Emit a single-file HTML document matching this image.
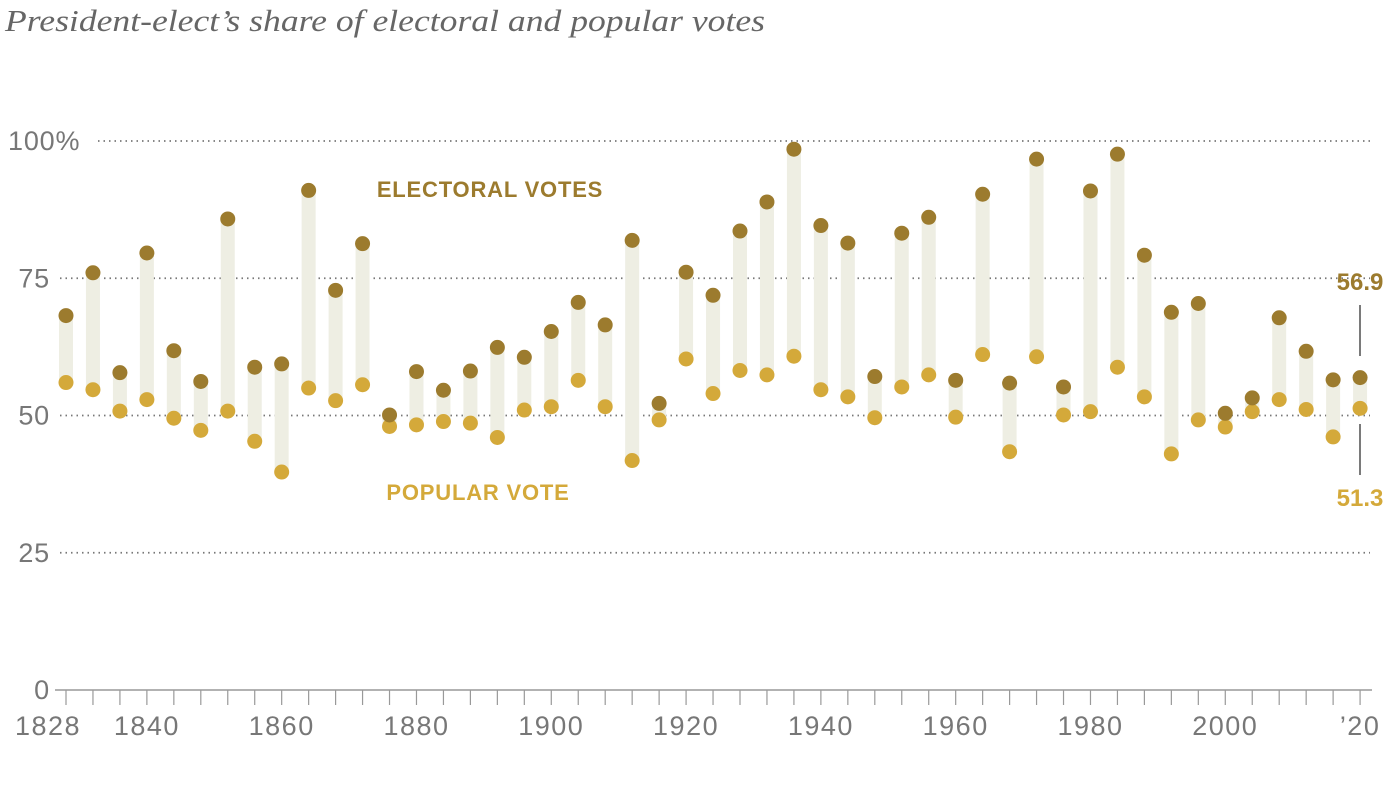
<!DOCTYPE html>
<html><head><meta charset="utf-8"><style>
html,body{margin:0;padding:0;background:#fff;}
svg{display:block;}
</style></head><body>
<svg id="chart" width="1399" height="789" viewBox="0 0 1399 789" xmlns="http://www.w3.org/2000/svg">
<text x="5" y="31" font-family="Liberation Serif, serif" font-style="italic" font-size="31" fill="#666" textLength="760" lengthAdjust="spacingAndGlyphs">President-elect’s share of electoral and popular votes</text>
<g id="grid"></g>
<g id="bars"></g>
<g id="dots"></g>
<g id="axis"></g>
<text x="490" y="197" text-anchor="middle" font-family="Liberation Sans, sans-serif" font-weight="bold" font-size="22" fill="#9c7b2e" letter-spacing="0.8">ELECTORAL VOTES</text>
<text x="478" y="500" text-anchor="middle" font-family="Liberation Sans, sans-serif" font-weight="bold" font-size="22" fill="#d4a93a" letter-spacing="0.8">POPULAR VOTE</text>
<text x="1360" y="290" text-anchor="middle" font-family="Liberation Sans, sans-serif" font-weight="bold" font-size="24" fill="#9c7b2e">56.9</text>
<line x1="1360" y1="305" x2="1360" y2="356" stroke="#333" stroke-width="1.3"/>
<text x="1360" y="506" text-anchor="middle" font-family="Liberation Sans, sans-serif" font-weight="bold" font-size="24" fill="#d4a93a">51.3</text>
<line x1="1360" y1="424" x2="1360" y2="475" stroke="#333" stroke-width="1.3"/>
</svg>
<script>
const years = [1828,1832,1836,1840,1844,1848,1852,1856,1860,1864,1868,1872,1876,1880,1884,1888,1892,1896,1900,1904,1908,1912,1916,1920,1924,1928,1932,1936,1940,1944,1948,1952,1956,1960,1964,1968,1972,1976,1980,1984,1988,1992,1996,2000,2004,2008,2012,2016,2020];
const electoral = [68.2,76.0,57.8,79.6,61.8,56.2,85.8,58.8,59.4,91.0,72.8,81.3,50.1,58.0,54.6,58.1,62.4,60.6,65.3,70.6,66.5,81.9,52.2,76.1,71.9,83.6,88.9,98.5,84.6,81.4,57.1,83.2,86.1,56.4,90.3,55.9,96.7,55.2,90.9,97.6,79.2,68.8,70.4,50.4,53.2,67.8,61.7,56.5,56.9];
const popular = [56.0,54.7,50.8,52.9,49.5,47.3,50.8,45.3,39.7,55.0,52.7,55.6,48.0,48.3,48.9,48.6,46.0,51.0,51.6,56.4,51.6,41.8,49.2,60.3,54.0,58.2,57.4,60.8,54.7,53.4,49.6,55.2,57.4,49.7,61.1,43.4,60.7,50.1,50.7,58.8,53.4,43.0,49.2,47.9,50.7,52.9,51.1,46.1,51.3];
const yTicks = [0,25,50,75,100];
const yTickLabels = ["0","25","50","75","100%"];
const xTickLabels = [[1828,"1828"],[1840,"1840"],[1860,"1860"],[1880,"1880"],[1900,"1900"],[1920,"1920"],[1940,"1940"],[1960,"1960"],[1980,"1980"],[2000,"2000"],[2020,"’20"]];

const NS="http://www.w3.org/2000/svg";
const x = yr => 66 + (yr-1828)/4*26.96;
const y = v => 690 - v*5.49;
function mk(tag, attrs, parent){const e=document.createElementNS(NS,tag);for(const k in attrs)e.setAttribute(k,attrs[k]);parent.appendChild(e);return e;}
const grid=document.getElementById('grid'), bars=document.getElementById('bars'), dots=document.getElementById('dots'), axis=document.getElementById('axis');

yTicks.forEach((t,i)=>{
  if(t>0){
    const l=mk('line',{x1:t===100?98:60,x2:1370,y1:y(t),y2:y(t),stroke:'#777','stroke-width':1.8,'stroke-dasharray':'1.5 4'},grid);
    
    
  }
  const tx=mk('text',{x:t===100?8:50,y:y(t)+9,'text-anchor':t===100?'start':'end','font-family':'Liberation Sans, sans-serif','font-size':27,fill:'#777','letter-spacing':0.8},grid);
  tx.textContent=yTickLabels[i];
  
  
});

years.forEach((yr,i)=>{
  const hi=Math.max(electoral[i],popular[i]), lo=Math.min(electoral[i],popular[i]);
  const r=mk('rect',{x:x(yr)-7,y:y(hi),width:14,height:y(lo)-y(hi),fill:'#eeeee3'},bars);
  
  
  const p=mk('circle',{cx:x(yr),cy:y(popular[i]),r:7.5,fill:'#d4a93a'},dots);
  
  
  const e=mk('circle',{cx:x(yr),cy:y(electoral[i]),r:7.5,fill:'#9c7b2e'},dots);
  
  
  const tk=mk('line',{x1:x(yr),x2:x(yr),y1:690,y2:705,stroke:'#999','stroke-width':1.2},axis);
  
  
});
const al=mk('line',{x1:55,x2:1372,y1:690,y2:690,stroke:'#999','stroke-width':1.5},axis);


xTickLabels.forEach(([yr,lab])=>{
  const t=mk('text',{x:yr===1828?48:x(yr),y:735,'text-anchor':'middle','font-family':'Liberation Sans, sans-serif','font-size':27,fill:'#777','letter-spacing':1.5},axis);
  t.textContent=lab;
  
  
});
</script>
</body></html>
